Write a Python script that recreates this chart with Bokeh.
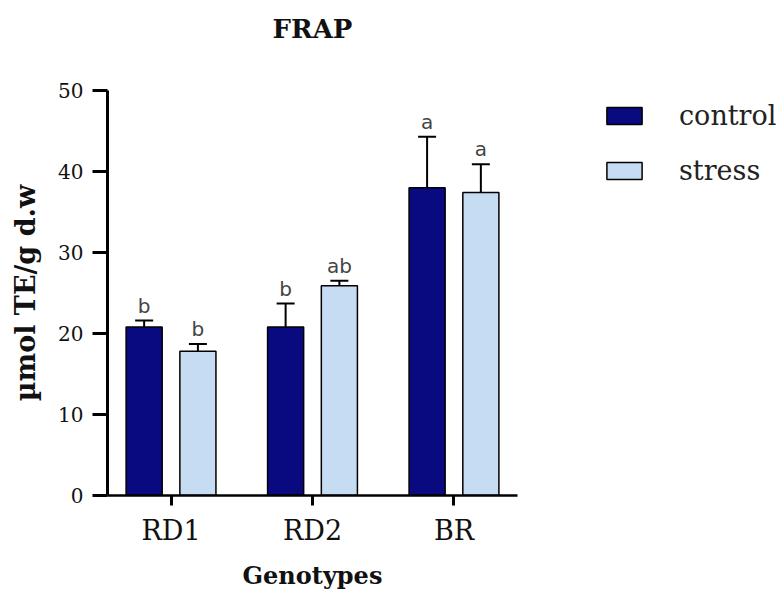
from bokeh.plotting import figure
from bokeh.models import (FactorRange, Range1d, Whisker, TeeHead, ColumnDataSource,
                          Legend, LegendItem, FixedTicker, Title)
from bokeh.transform import dodge
from bokeh.core.properties import value
from bokeh.embed import file_html
from bokeh.resources import INLINE

genotypes = ["RD1", "RD2", "BR"]
control = [20.8, 20.8, 38.0]
control_err = [0.8, 2.9, 6.3]
stress = [17.8, 25.9, 37.4]
stress_err = [0.9, 0.6, 3.5]
control_letters = ["b", "b", "a"]
stress_letters = ["b", "ab", "a"]
y_ticks = [0, 10, 20, 30, 40, 50]

CONTROL_COLOR = "#0a0a80"
STRESS_COLOR = "#c6dcf3"
SERIF = "DejaVu Serif"

src_c = ColumnDataSource(dict(g=genotypes, v=control,
                              top=[v + e for v, e in zip(control, control_err)],
                              lab=control_letters))
src_s = ColumnDataSource(dict(g=genotypes, v=stress,
                              top=[v + e for v, e in zip(stress, stress_err)],
                              lab=stress_letters))

p = figure(x_range=FactorRange(factors=genotypes, range_padding=-0.051,
                               range_padding_units="absolute"),
           y_range=Range1d(0, 50),
           frame_width=410, frame_height=405,
           output_backend="svg", toolbar_location=None,
           min_border_left=107, min_border_top=90, min_border_right=261,
           min_border_bottom=100, title="FRAP")

p.title.text_font = SERIF
p.title.text_font_size = "26px"
p.title.text_font_style = "bold"
p.title.align = "center"
p.title.text_color = "#111111"
p.title.standoff = 0

# empty spacer between the title and the plot area
p.add_layout(Title(text=" ", text_font_size="10px", standoff=34), "above")

off = 0.19
bw = 0.255
xc = dodge("g", -off, range=p.x_range)
xs = dodge("g", off, range=p.x_range)

rc = p.vbar(x=xc, top="v", width=bw, source=src_c, fill_color=CONTROL_COLOR,
            line_color="black", line_width=1.5)
rs = p.vbar(x=xs, top="v", width=bw, source=src_s, fill_color=STRESS_COLOR,
            line_color="black", line_width=1.5)

for src, x in ((src_c, xc), (src_s, xs)):
    w = Whisker(base=x, upper="top", lower="v", source=src, dimension="height",
                line_color="black", line_width=2,
                upper_head=TeeHead(size=18, line_width=2, line_color="black"),
                lower_head=None, level="underlay")
    p.add_layout(w)
    p.text(x=x, y="top", text="lab", source=src, text_align="center",
           text_baseline="bottom", y_offset=-3, text_font=value("DejaVu Sans"),
           text_font_size="20px", text_color="#444444")

p.grid.visible = False
p.outline_line_color = None
p.background_fill_color = "white"

p.yaxis.ticker = FixedTicker(ticks=y_ticks)
p.yaxis.minor_tick_line_color = None
p.yaxis.major_tick_in = 0
p.yaxis.major_tick_out = 15
p.yaxis.major_tick_line_width = 3
p.yaxis.axis_line_width = 3
p.yaxis.major_label_standoff = 9
p.yaxis.major_label_text_font = SERIF
p.yaxis.major_label_text_font_size = "20px"
p.yaxis.major_label_text_color = "#111111"
p.yaxis.axis_label = "µmol TE/g d.w"
p.yaxis.axis_label_text_font = SERIF
p.yaxis.axis_label_text_font_size = "27px"
p.yaxis.axis_label_text_font_style = "bold"
p.yaxis.axis_label_standoff = 14
p.yaxis.axis_label_text_color = "#111111"

p.xaxis.major_tick_in = 0
p.xaxis.major_tick_out = 10
p.xaxis.major_tick_line_width = 3
p.xaxis.axis_line_width = 2.5
p.xaxis.major_label_standoff = 9
p.xaxis.major_label_text_font = SERIF
p.xaxis.major_label_text_font_size = "27px"
p.xaxis.major_label_text_color = "#111111"
p.xaxis.axis_label = "Genotypes"
p.xaxis.axis_label_text_font = SERIF
p.xaxis.axis_label_text_font_size = "24px"
p.xaxis.axis_label_text_font_style = "bold"
p.xaxis.axis_label_standoff = 12
p.xaxis.axis_label_text_color = "#111111"

legend = Legend(items=[LegendItem(label="control", renderers=[rc]),
                       LegendItem(label="stress", renderers=[rs])],
                location=(85, 309), padding=0, margin=0, border_line_color=None,
                background_fill_alpha=0, glyph_width=44, glyph_height=21,
                label_standoff=33, spacing=24, label_text_font=SERIF,
                label_text_font_size="27px", label_text_color="#222222")
p.add_layout(legend, "right")

open("out.html", "w").write(file_html(p, INLINE))
